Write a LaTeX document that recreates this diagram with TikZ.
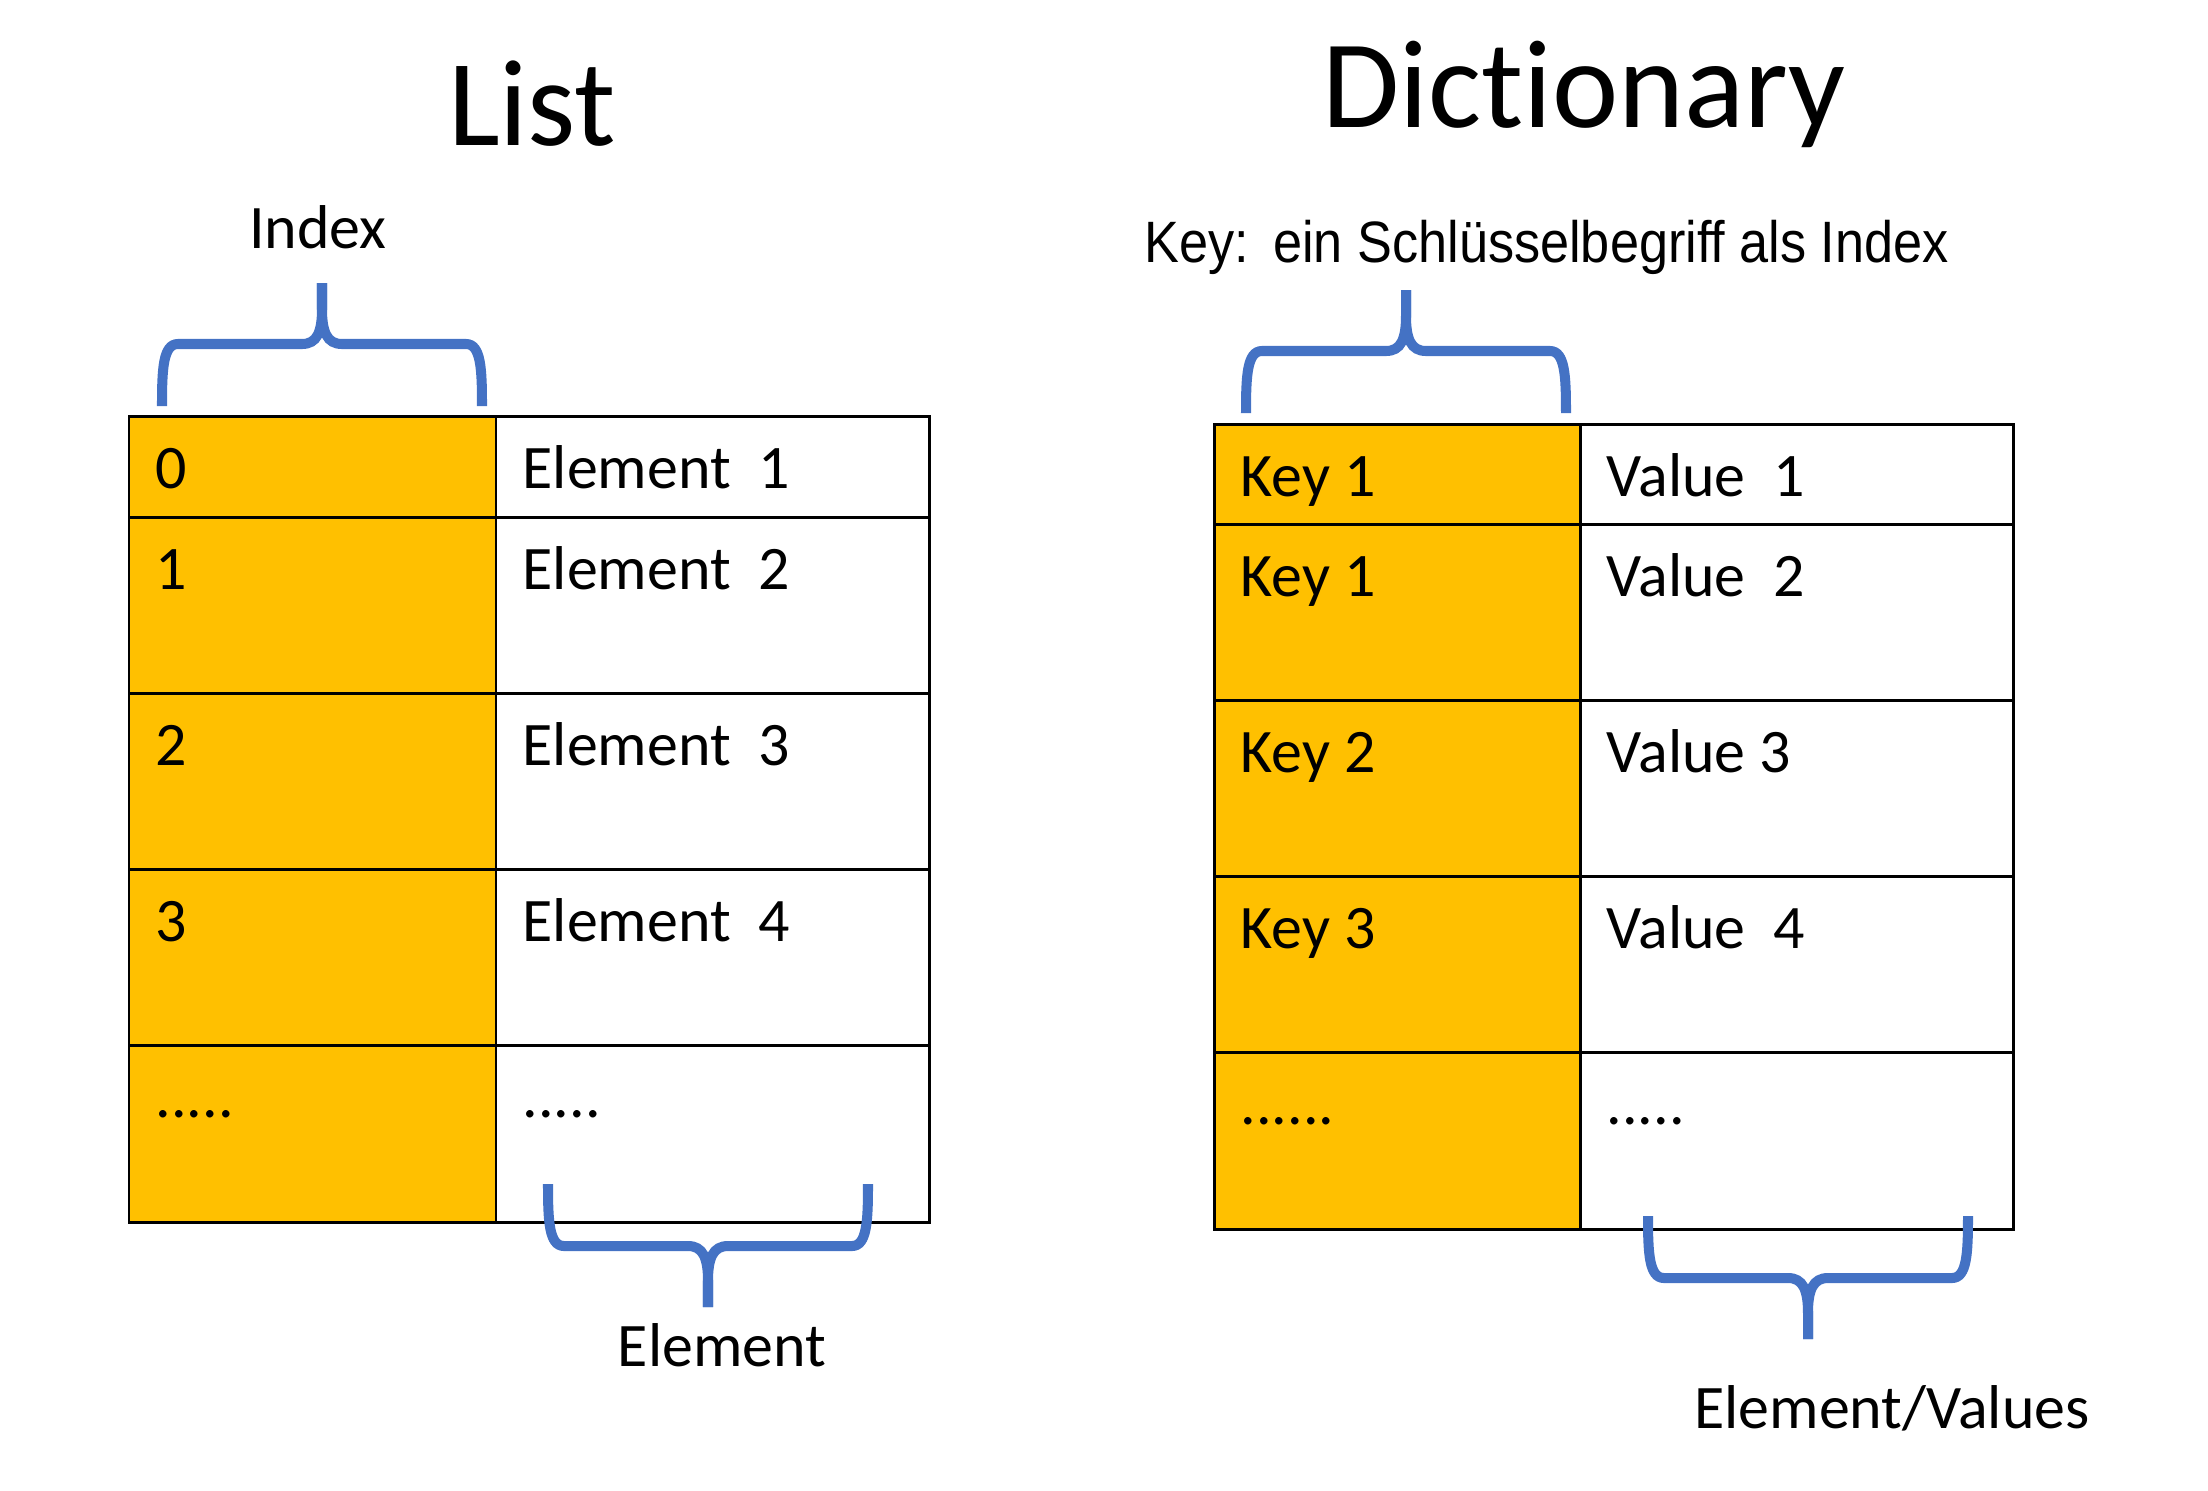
\documentclass[tikz,border=0pt]{standalone}
\usepackage{fontspec}
\setmainfont{Carlito}[Ligatures=NoCommon]
\newfontfamily\arialf{Liberation Sans}[Ligatures=NoCommon]
\usepackage{graphicx}
\definecolor{bracecol}{HTML}{4472C4}
\definecolor{keycol}{HTML}{FFC000}
\tikzset{
  cellbox/.style={draw=black, line width=0.85pt},
  keycell/.style={cellbox, fill=keycol},
  valcell/.style={cellbox, fill=white},
  celltext/.style={anchor=base west, inner sep=0pt, font=\fontsize{17.6}{20}\selectfont},
  bracestroke/.style={draw=bracecol, line width=2.85pt},
  titletext/.style={anchor=base, inner sep=0pt},
  labeltext/.style={anchor=base, inner sep=0pt, font=\fontsize{17.6}{20}\selectfont},
  pics/curlybrace/.style={code={
    \path[bracestroke] (-160,62) .. controls (-160,25) and (-159,0) .. (-144,0) -- (-20,0) .. controls (-5,0) and (0,-12) .. (0,-35) -- (0,-61);
    \path[bracestroke] (160,62) .. controls (160,25) and (159,0) .. (144,0) -- (20,0) .. controls (5,0) and (0,-12) .. (0,-35) -- (0,-61);
  }}
}
\begin{document}
\begin{tikzpicture}[x=0.01cm,y=-0.01cm]
\useasboundingbox (0,0) rectangle (2208,1490);
% ---------- List ----------
\node[titletext, font=\fontsize{35}{40}\selectfont] (listtitle) at (532,145) {List};
\node[labeltext] (indexlbl) at (318,248) {Index};
\pic at (322,344) {curlybrace};
\foreach \ya/\yb in {416/517,517/693,693/869,869/1045,1045/1222}{
  \path[keycell] (129,\ya) rectangle (496,\yb);
  \path[valcell] (496,\ya) rectangle (929,\yb);
}
\node[celltext] (l0) at (155,488) {0};
\node[celltext] (l1) at (155,589) {1};
\node[celltext] (l2) at (155,765) {2};
\node[celltext] (l3) at (155,941) {3};
\node[celltext] (l4) at (155,1117) {.....};
\node[celltext] (e1) at (522,488) {Element\ \ 1};
\node[celltext] (e2) at (522,589) {Element\ \ 2};
\node[celltext] (e3) at (522,765) {Element\ \ 3};
\node[celltext] (e4) at (522,941) {Element\ \ 4};
\node[celltext] (e5) at (522,1117) {.....};
\pic[yscale=-1] at (708,1246) {curlybrace};
\node[labeltext] (elemlbl) at (722,1366) {Element};
% ---------- Dictionary ----------
\node[titletext, font=\fontsize{35.7}{40}\selectfont] (dicttitle) at (1584,127) {Dictionary};
\node[anchor=base west, inner sep=0pt, font=\arialf\fontsize{16.6}{20}\selectfont] (keylbl) at (1144,262) {\scalebox{0.895}[1]{Key:\kern3pt\ ein Schlüsselbegriff als Index}};
\pic at (1406,351) {curlybrace};
\foreach \ya/\yb in {424/524,524/700,700/876,876/1052,1052/1229}{
  \path[keycell] (1214,\ya) rectangle (1580,\yb);
  \path[valcell] (1580,\ya) rectangle (2013,\yb);
}
\node[celltext] (k1) at (1240,496) {Key 1};
\node[celltext] (k2) at (1240,596) {Key 1};
\node[celltext] (k3) at (1240,772) {Key 2};
\node[celltext] (k4) at (1240,948) {Key 3};
\node[celltext] (k5) at (1240,1124) {......};
\node[celltext] (v1) at (1606,496) {Value\ \ 1};
\node[celltext] (v2) at (1606,596) {Value\ \ 2};
\node[celltext] (v3) at (1606,772) {Value 3};
\node[celltext] (v4) at (1606,948) {Value\ \ 4};
\node[celltext] (v5) at (1606,1124) {.....};
\pic[yscale=-1] at (1808,1278) {curlybrace};
\node[labeltext] (vallbl) at (1892,1428) {Element/Values};
\end{tikzpicture}
\end{document}
